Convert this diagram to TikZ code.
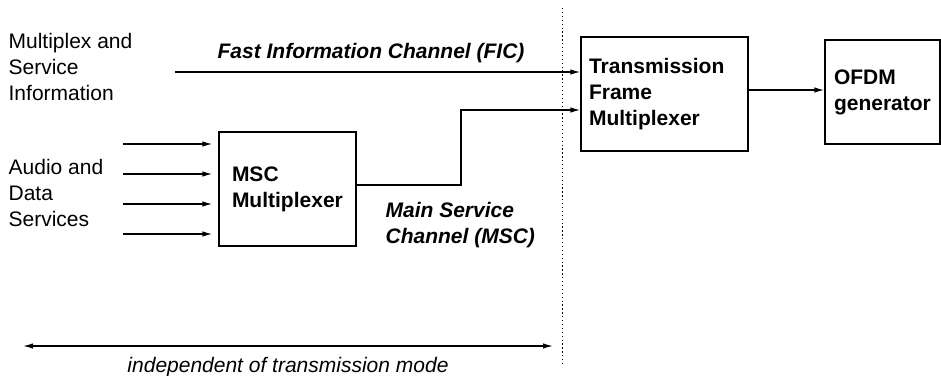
\documentclass[tikz,border=0pt]{standalone}
\usepackage{fontspec}
\setmainfont{Liberation Sans}
\usetikzlibrary{arrows.meta}

\begin{document}
\begin{tikzpicture}[x=1pt, y=-1pt,
    font=\fontsize{21}{26}\selectfont,
    line width=1.3pt,
    arr/.style={-{Latex[length=10pt,width=5.5pt]}},
    dblarr/.style={{Latex[length=10pt,width=5.5pt]}-{Latex[length=10pt,width=5.5pt]}},
    blk/.style={draw, rectangle, align=left, font=\fontsize{21}{26}\selectfont\bfseries},
    lbl/.style={align=left, inner sep=0pt, anchor=north west},
    chan/.style={inner sep=0pt, font=\fontsize{21}{26}\selectfont\bfseries\itshape}]

    \useasboundingbox (0,0) rectangle (941,375);

    % boxes
    \node[blk, minimum height=114pt, text width=111pt, inner xsep=13pt] (msc) at (287.5,189) {MSC\\Multiplexer};
    \node[blk, minimum height=114pt, text width=151pt, inner xsep=8pt] (tfm) at (664.5,94) {Transmission\\Frame\\Multiplexer};
    \node[blk, minimum height=104pt, text width=97pt, inner xsep=9pt] (ofdm) at (882.5,92) {OFDM\\generator};

    % texts
    \node[lbl] (msi) at (8,33) {Multiplex and\\Service\\Information};
    \node[lbl] (ads) at (8,159) {Audio and\\Data\\Services};
    \node[chan, anchor=base west] (ficlbl) at (217,58) {Fast Information Channel (FIC)};
    \node[chan, lbl] (msclbl) at (385,202) {Main Service\\Channel (MSC)};

    % boundary
    \draw[line width=1pt, dash pattern=on 1.3pt off 2.6pt] (562,8) -- (562,365);

    % inputs
    \foreach \y [count=\i] in {144,174,204,234} {
        \coordinate (in\i) at (123,\y);
        \draw[arr, shorten >=6pt] (in\i) -- (in\i -| msc.west);
    }

    % channels
    \coordinate (fic) at (175,72);
    \draw[arr] (fic) -- (fic -| tfm.west);
    \coordinate (bend) at (461,110);
    \draw[arr] ([yshift=4pt]msc.east) -| (bend) -- (bend -| tfm.west);
    \draw[arr] ([yshift=4pt]tfm.east) -- ([yshift=4pt]tfm.east -| ofdm.west);

    % range
    \coordinate (rl) at (23,346);
    \coordinate (rr) at (553,346);
    \draw[dblarr] (rl) -- (rr);
    \node[anchor=base, inner sep=0pt, font=\fontsize{21}{26}\selectfont\itshape] (mode) at (288,372) {independent of transmission mode};

\end{tikzpicture}
\end{document}
